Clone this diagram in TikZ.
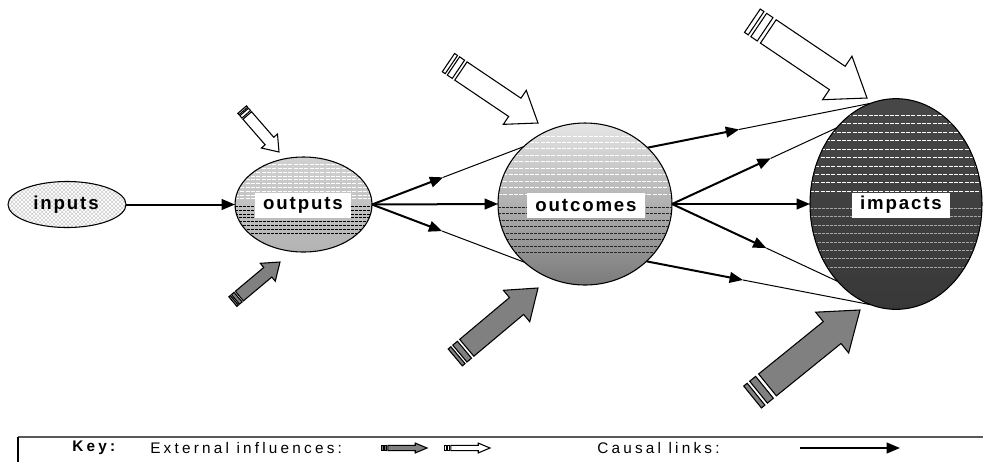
\documentclass[tikz,border=0pt]{standalone}
\usepackage{fontspec}
\setmainfont{Liberation Sans}
\newfontfamily\spaced[LetterSpace=10]{Liberation Sans}
\newfontfamily\keyspaced[LetterSpace=21]{Liberation Sans}
\usetikzlibrary{shapes.geometric, arrows.meta}
\usetikzlibrary{calc}
\usetikzlibrary{patterns}

% block arrow for an external influence, tip at #2, pointing at angle #3
\newcommand{\influence}[4][]{%
  \begin{scope}[shift={#2}, rotate=#3, #1]
    \filldraw [fill=#4, line width=.8pt] (0,0) -- (-28,20.5) -- (-28,11) -- (-93,11)
      -- (-93,-11) -- (-28,-11) -- (-28,-20.5) -- cycle;
    \filldraw [fill=#4, line width=.8pt] (-96,-11) rectangle (-102,11);
    \filldraw [fill=#4, line width=.8pt] (-104.5,-11) rectangle (-108,11);
  \end{scope}}

\tikzset{
  effect/.style n args={4}{ellipse, draw, line width=.8pt, inner sep=0pt, outer sep=0pt,
    path picture={
      \fill [top color=#1, bottom color=#2]
        (path picture bounding box.south west) rectangle (path picture bounding box.north east);
      \foreach \s in {.08,.12,...,.44}
        \draw [#3, line width=.7pt, dash pattern=on 3pt off 1pt]
          ($(path picture bounding box.north west)!\s!(path picture bounding box.south west)$) --
          ($(path picture bounding box.north east)!\s!(path picture bounding box.south east)$);
      \foreach \s in {.52,.56,...,.8}
        \draw [#4, line width=.5pt, dash pattern=on 2pt off 1pt]
          ($(path picture bounding box.north west)!\s!(path picture bounding box.south west)$) --
          ($(path picture bounding box.north east)!\s!(path picture bounding box.south east)$);
    }},
  link/.style={line width=1.5pt, -{Triangle[length=10pt,width=8pt]}},
  linktail/.style={line width=.75pt},
  tagtext/.style={inner xsep=6pt, inner ysep=0pt, minimum height=18.75pt,
    font=\spaced\bfseries\fontsize{14}{16}\selectfont},
  tag/.style={tagtext, fill=white},
  keytext/.style={anchor=west, inner sep=0pt, font=\keyspaced\fontsize{11.5}{13}\selectfont}
}

\begin{document}
\begin{tikzpicture}[x=.75pt, y=-.75pt]
\useasboundingbox (0,0) rectangle (983,462);

% the four stages
\node [ellipse, draw, line width=.8pt, inner sep=0pt, outer sep=0pt,
  pattern=crosshatch, pattern color=gray!40,
  minimum width=88.5pt, minimum height=34.5pt] (inputs) at (67,204.5) {};
\node [effect={black!18}{black!30}{white}{black}, minimum width=102.75pt,
  minimum height=71.25pt] (outputs) at (303.5,204.5) {};
\node [effect={black!10}{black!52}{white}{black!85}, minimum width=130.5pt,
  minimum height=121.5pt] (outcomes) at (585,204) {};
\node [effect={black!72}{black!78}{white}{gray!70}, minimum width=129pt,
  minimum height=158pt] (impacts) at (896,204) {};

\node [tagtext] (inputs-tag) at (66,205) {inputs};
\node [tag] (outputs-tag) at (303,205) {outputs};
\node [tag] (outcomes-tag) at (586,205) {outcomes};
\node [tag] (impacts-tag) at (901,205) {impacts};

% causal links
\draw [link] (inputs.east) -- (outputs.west);
\draw [link] (outputs.east) -- (outcomes.west);
\draw [link] (outcomes.east) -- (impacts.west);

\foreach \a/\b/\f [count=\i] in {outputs.east/outcomes.137/.47, outputs.east/outcomes.224/.46,
    outcomes.42/impacts.104/.41, outcomes.east/impacts.128/.6,
    outcomes.east/impacts.233/.57, outcomes.317/impacts.256/.43} {
  \draw [link] (\a) -- ($(\a)!\f!(\b)$) coordinate (mid-\i);
  \draw [linktail] (mid-\i) -- (\b);
}

% external influences
\influence[scale=.52]{(279,152)}{-49}{white}
\influence[scale=.57]{(280,262)}{40}{gray}
\influence{(538,123)}{-34}{white}
\influence{(538,288)}{40}{gray}
\influence[scale=1.28]{(867,98)}{-34}{white}
\influence[scale=1.28]{(860,310)}{39}{gray}

% key
\draw [line width=1.5pt, black!65] (18,437) -- (983,437);
\draw [line width=.8pt] (18,437) -- (18,462);
\node [keytext] (key) at (72,448) {\bfseries Key:};
\node [keytext] (key-external) at (150,448) {External influences:};
\influence[xscale=.42, yscale=.24]{(427,448)}{0}{gray}
\influence[xscale=.42, yscale=.24]{(490,448)}{0}{white}
\node [keytext] (key-causal) at (597,448) {Causal links:};
\coordinate (key-from) at (800,448);
\coordinate (key-to) at (900,448);
\draw [link] (key-from) -- (key-to);

\end{tikzpicture}
\end{document}
